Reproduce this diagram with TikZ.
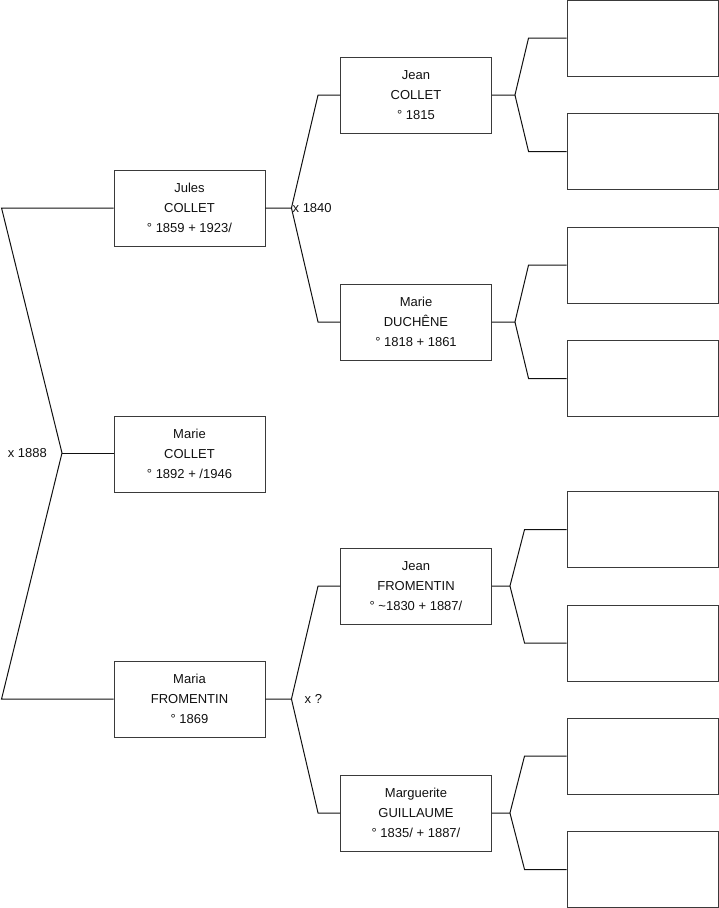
\documentclass[tikz,border=0pt]{standalone}
\usepackage{fontspec}
\setmainfont{Liberation Sans}
\usepackage{tikz}
\usetikzlibrary{positioning, calc}
\definecolor{inkOne}{HTML}{111111}
\definecolor{inkTwo}{HTML}{3A3A3A}
\tikzset{
  person/.style={draw=inkTwo, line width=0.9pt, minimum width=151pt, minimum height=76pt, align=center,
    inner sep=0pt, font=\fontsize{13}{20}\selectfont, text=inkOne},
  link/.style={draw=inkOne, line width=1pt},
  union/.style={font=\fontsize{13}{16}\selectfont, text=inkOne, inner sep=0pt},
}

\begin{document}
\begin{tikzpicture}[x=1pt, y=-1pt]
  \useasboundingbox (0,0) rectangle (719,908);
  % generation 1
  \node[person] (jules) at (189.5,208) {Jules\\COLLET\\° 1859 + 1923/};
  \node[person] (mariec) at (189.5,454) {Marie\\COLLET\\° 1892 + /1946};
  \node[person] (maria) at (189.5,699) {Maria\\FROMENTIN\\° 1869};
  % generation 2
  \node[person] (jeanc) at (416,95) {Jean\\COLLET\\° 1815};
  \node[person] (maried) at (416,322) {Marie\\DUCHÊNE\\° 1818 + 1861};
  \node[person] (jeanf) at (416,586) {Jean\\FROMENTIN\\° \textasciitilde1830 + 1887/};
  \node[person] (marg) at (416,813) {Marguerite\\GUILLAUME\\° 1835/ + 1887/};
  % generation 3, still unknown
  \foreach \n/\y in {1/38, 2/151.5, 3/265, 4/378.5, 5/529.5, 6/643, 7/756, 8/869.5} {
    \node[person] (u\n) at (642.5,\y) {};
  }
  % marriage of the parents
  \coordinate (m1888) at (62,453);
  \draw[link] (jules.west) -- ++(-112,0) -- (m1888) -- ([xshift=-112pt]maria.west) -- (maria.west);
  \draw[link] (m1888) -- (m1888 -| mariec.west);
  \node[union, left=15pt of m1888] (l1888) {x 1888};
  % grandparents
  \draw[link] (jules.east) -- ++(26,0) coordinate (m1840) -- ([xshift=-22pt]jeanc.west) -- (jeanc.west);
  \draw[link] (m1840) -- ([xshift=-22pt]maried.west) -- (maried.west);
  \node[union, right=1pt of m1840] (l1840) {x 1840};
  \draw[link] (maria.east) -- ++(26,0) coordinate (mq) -- ([xshift=-22pt]jeanf.west) -- (jeanf.west);
  \draw[link] (mq) -- ([xshift=-22pt]marg.west) -- (marg.west);
  \node[union, right=13pt of mq] (lq) {x ?};
  % great-grandparents
  \foreach \p/\a/\b/\d/\e in {jeanc/u1/u2/23/38, maried/u3/u4/23/38, jeanf/u5/u6/18/42, marg/u7/u8/18/42} {
    \draw[link] (\p.east) -- ++(\d,0) coordinate (v\p) -- ([xshift=-\e pt]\a.west) -- (\a.west);
    \draw[link] (v\p) -- ([xshift=-\e pt]\b.west) -- (\b.west);
  }
\end{tikzpicture}
\end{document}
